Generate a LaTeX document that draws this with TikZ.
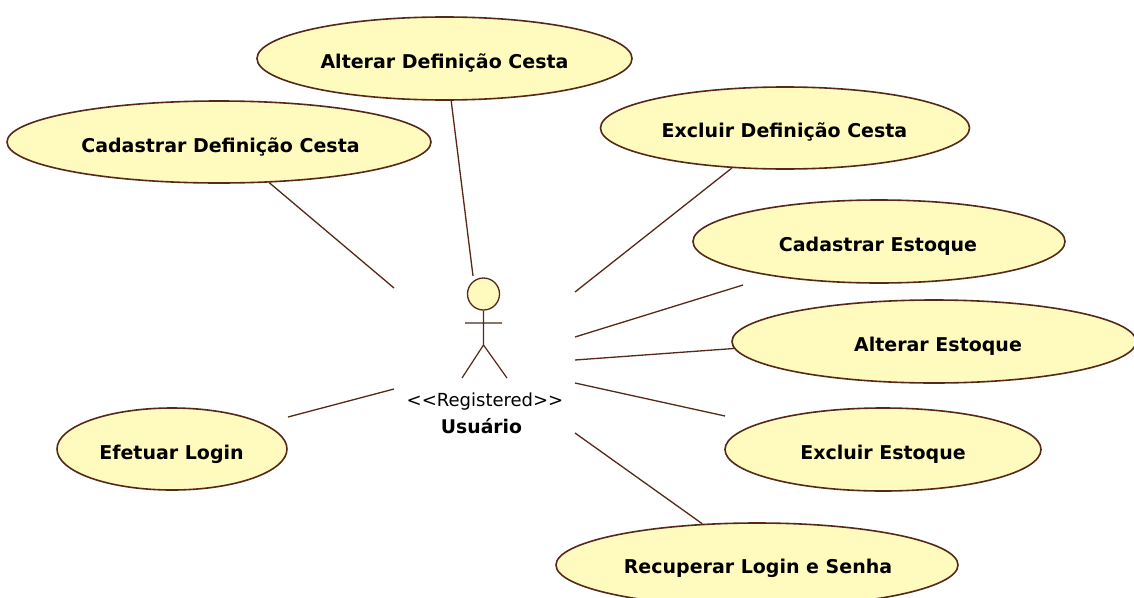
\documentclass[tikz,border=0pt]{standalone}
\usepackage{fontspec}
\setmainfont{DejaVu Sans}
\usetikzlibrary{shapes.geometric}
\definecolor{ucfill}{RGB}{255,250,190}
\definecolor{ucline}{RGB}{85,40,25}
\newcommand{\txtshift}[2]{\makebox[0pt]{\hspace*{#1}#2}}
\tikzset{
  usecase/.style={ellipse,draw=ucline,fill=ucfill,line width=1.6pt,inner sep=0pt,
    font=\fontsize{19}{21}\selectfont\bfseries,text=black,text height=20pt,text depth=0pt},
  link/.style={draw=ucline,line width=1.3pt},
  stick/.style={draw=ucline,line width=1.2pt},
  lbl/.style={inner sep=0pt,text=black}
}
\begin{document}
\begin{tikzpicture}[x=1pt,y=-1pt]
\useasboundingbox (0,0) rectangle (1134,597);
\clip (0,0) rectangle (1134,597);
\fill[white] (0,0) rectangle (1134,597);
\node[usecase,minimum width=375pt,minimum height=83pt] (alterardef) at (444.5,58.5) {\txtshift{0pt}{Alterar Definição Cesta}};
\node[usecase,minimum width=424pt,minimum height=82pt] (cadastrardef) at (219,142) {\txtshift{3pt}{Cadastrar Definição Cesta}};
\node[usecase,minimum width=369pt,minimum height=82pt,text height=18pt] (excluirdef) at (785,128) {\txtshift{-1pt}{Excluir Definição Cesta}};
\node[usecase,minimum width=372pt,minimum height=83pt] (cadastrarest) at (879,241.5) {\txtshift{-2pt}{Cadastrar Estoque}};
\node[usecase,minimum width=404pt,minimum height=83pt] (alterarest) at (934,341.5) {\txtshift{8pt}{Alterar Estoque}};
\node[usecase,minimum width=316pt,minimum height=83pt] (excluirest) at (883,449.5) {\txtshift{0pt}{Excluir Estoque}};
\node[usecase,minimum width=230pt,minimum height=82pt] (login) at (172,449) {\txtshift{-1pt}{Efetuar Login}};
\node[usecase,minimum width=402pt,minimum height=84pt,text height=16pt] (recuperar) at (757,565) {\txtshift{2pt}{Recuperar Login e Senha}};
\node[circle,draw=ucline,fill=ucfill,line width=1.3pt,minimum size=32pt,inner sep=0pt] (head) at (483.5,294) {};
\coordinate (hip) at (483.5,345);
\coordinate (armL) at (465,323);
\coordinate (armR) at (502,323);
\coordinate (footL) at (462,378);
\coordinate (footR) at (507,378);
\draw[stick] (head.south) -- (hip) (armL) -- (armR) (footL) -- (hip) -- (footR);
\node[lbl,font=\fontsize{18}{20}\selectfont] (stereo) at (485,402) {<{}<Registered>{}>};
\node[lbl,font=\fontsize{18.8}{21}\selectfont\bfseries] (actor) at (481.5,426) {Usuário};
\coordinate (a1) at (394,288);
\coordinate (a2) at (473,276);
\coordinate (a3) at (575,292);
\coordinate (a4) at (575,337);
\coordinate (a5) at (575,360);
\coordinate (a6) at (575,383);
\coordinate (a7) at (575,433);
\coordinate (a8) at (394,389);
\coordinate (b4) at (743,285);
\coordinate (b6) at (725,416);
\coordinate (b8) at (288,417);
\draw[link] (cadastrardef.-39.8) -- (a1);
\draw[link] (alterardef.-81) -- (a2);
\draw[link] (excluirdef.217) -- (a3);
\draw[link] (b4) -- (a4);
\draw[link] (alterarest.182.7) -- (a5);
\draw[link] (b6) -- (a6);
\draw[link] (recuperar.143.6) -- (a7);
\draw[link] (b8) -- (a8);
\end{tikzpicture}
\end{document}
